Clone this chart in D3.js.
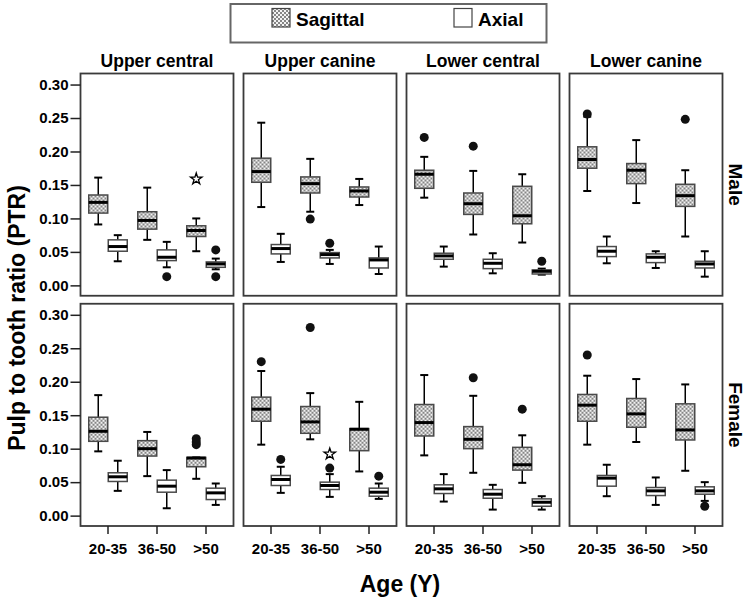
<!DOCTYPE html>
<html>
<head>
<meta charset="utf-8">
<script src="https://cdn.jsdelivr.net/npm/d3@7/dist/d3.min.js"></script>
<style>
  html, body { margin: 0; padding: 0; background: #fff; }
  svg { display: block; }
  text { font-family: "Liberation Sans", Arial, Helvetica, sans-serif; fill: #000; }
</style>
</head>
<body>
<svg id="chart" width="750" height="608"></svg>
<script>
// ---------------- data ----------------
const teeth = ["Upper central", "Upper canine", "Lower central", "Lower canine"];
const sexes = ["Male", "Female"];
const ages = ["20-35", "36-50", ">50"];
const views = ["Sagittal", "Axial"];
const yTickValues = [0.00, 0.05, 0.10, 0.15, 0.20, 0.25, 0.30];

// each box: [whisker low, Q1, median, Q3, whisker high], one per age group
const maleUpperCentralSag = [[0.091, 0.108, 0.124, 0.135, 0.161], [0.068, 0.084, 0.097, 0.110, 0.146], [0.051, 0.073, 0.082, 0.089, 0.100]];
const maleUpperCentralAx  = [[0.036, 0.051, 0.058, 0.068, 0.075], [0.027, 0.037, 0.042, 0.053, 0.065], [0.024, 0.027, 0.032, 0.035, 0.040]];
const maleUpperCanineSag  = [[0.117, 0.154, 0.170, 0.190, 0.243], [0.110, 0.138, 0.152, 0.162, 0.189], [0.120, 0.132, 0.141, 0.147, 0.159]];
const maleUpperCanineAx   = [[0.035, 0.047, 0.055, 0.061, 0.077], [0.032, 0.041, 0.046, 0.049, 0.053], [0.017, 0.026, 0.038, 0.041, 0.058]];
const maleLowerCentralSag = [[0.131, 0.145, 0.166, 0.172, 0.192], [0.076, 0.106, 0.122, 0.138, 0.171], [0.064, 0.092, 0.104, 0.148, 0.166]];
const maleLowerCentralAx  = [[0.028, 0.039, 0.044, 0.048, 0.058], [0.018, 0.025, 0.033, 0.039, 0.048], [0.016, 0.017, 0.021, 0.023, 0.025]];
const maleLowerCanineSag  = [[0.141, 0.175, 0.188, 0.207, 0.252], [0.123, 0.152, 0.172, 0.182, 0.217], [0.073, 0.118, 0.134, 0.151, 0.172]];
const maleLowerCanineAx   = [[0.033, 0.043, 0.051, 0.058, 0.073], [0.026, 0.034, 0.042, 0.047, 0.051], [0.013, 0.026, 0.032, 0.036, 0.051]];

const femaleUpperCentralSag = [[0.096, 0.111, 0.126, 0.147, 0.180], [0.059, 0.089, 0.100, 0.112, 0.125], [0.055, 0.073, 0.086, 0.087, 0.087]];
const femaleUpperCentralAx  = [[0.037, 0.051, 0.058, 0.064, 0.082], [0.011, 0.035, 0.044, 0.053, 0.068], [0.016, 0.024, 0.034, 0.041, 0.048]];
const femaleUpperCanineSag  = [[0.106, 0.141, 0.159, 0.177, 0.216], [0.114, 0.123, 0.140, 0.163, 0.183], [0.066, 0.097, 0.129, 0.130, 0.170]];
const femaleUpperCanineAx   = [[0.034, 0.045, 0.054, 0.060, 0.073], [0.028, 0.039, 0.045, 0.050, 0.062], [0.025, 0.029, 0.035, 0.041, 0.048]];
const femaleLowerCentralSag = [[0.090, 0.119, 0.139, 0.166, 0.210], [0.064, 0.100, 0.114, 0.133, 0.179], [0.049, 0.068, 0.076, 0.102, 0.120]];
const femaleLowerCentralAx  = [[0.021, 0.033, 0.040, 0.046, 0.062], [0.009, 0.026, 0.032, 0.039, 0.046], [0.009, 0.014, 0.020, 0.025, 0.029]];
const femaleLowerCanineSag  = [[0.106, 0.141, 0.165, 0.181, 0.209], [0.110, 0.132, 0.152, 0.175, 0.204], [0.067, 0.113, 0.128, 0.167, 0.196]];
const femaleLowerCanineAx   = [[0.029, 0.044, 0.056, 0.060, 0.076], [0.016, 0.030, 0.037, 0.042, 0.057], [0.022, 0.032, 0.037, 0.043, 0.050]];

// outliers: [sex, tooth, age, view, value, kind]
const outliers = [
  ["Male", "Upper central", ">50", "Sagittal", 0.159, "star"],
  ["Male", "Upper central", "36-50", "Axial", 0.013, "circle"],
  ["Male", "Upper central", ">50", "Axial", 0.053, "circle"],
  ["Male", "Upper central", ">50", "Axial", 0.013, "circle"],
  ["Male", "Upper canine", "36-50", "Sagittal", 0.099, "circle"],
  ["Male", "Upper canine", "36-50", "Axial", 0.063, "circle"],
  ["Male", "Lower central", "20-35", "Sagittal", 0.221, "circle"],
  ["Male", "Lower central", "36-50", "Sagittal", 0.208, "circle"],
  ["Male", "Lower central", ">50", "Axial", 0.036, "circle"],
  ["Male", "Lower canine", "20-35", "Sagittal", 0.256, "circle"],
  ["Male", "Lower canine", ">50", "Sagittal", 0.248, "circle"],
  ["Female", "Upper central", ">50", "Sagittal", 0.106, "circle"],
  ["Female", "Upper central", ">50", "Sagittal", 0.110, "circle"],
  ["Female", "Upper central", ">50", "Sagittal", 0.115, "circle"],
  ["Female", "Upper canine", "20-35", "Sagittal", 0.230, "circle"],
  ["Female", "Upper canine", "20-35", "Axial", 0.084, "circle"],
  ["Female", "Upper canine", "36-50", "Sagittal", 0.281, "circle"],
  ["Female", "Upper canine", "36-50", "Axial", 0.092, "star"],
  ["Female", "Upper canine", "36-50", "Axial", 0.071, "circle"],
  ["Female", "Upper canine", ">50", "Axial", 0.059, "circle"],
  ["Female", "Lower central", "36-50", "Sagittal", 0.206, "circle"],
  ["Female", "Lower central", ">50", "Sagittal", 0.159, "circle"],
  ["Female", "Lower canine", "20-35", "Sagittal", 0.240, "circle"],
  ["Female", "Lower canine", ">50", "Axial", 0.014, "circle"]
];

const boxSets = {
  "Male|Upper central|Sagittal": maleUpperCentralSag, "Male|Upper central|Axial": maleUpperCentralAx,
  "Male|Upper canine|Sagittal": maleUpperCanineSag, "Male|Upper canine|Axial": maleUpperCanineAx,
  "Male|Lower central|Sagittal": maleLowerCentralSag, "Male|Lower central|Axial": maleLowerCentralAx,
  "Male|Lower canine|Sagittal": maleLowerCanineSag, "Male|Lower canine|Axial": maleLowerCanineAx,
  "Female|Upper central|Sagittal": femaleUpperCentralSag, "Female|Upper central|Axial": femaleUpperCentralAx,
  "Female|Upper canine|Sagittal": femaleUpperCanineSag, "Female|Upper canine|Axial": femaleUpperCanineAx,
  "Female|Lower central|Sagittal": femaleLowerCentralSag, "Female|Lower central|Axial": femaleLowerCentralAx,
  "Female|Lower canine|Sagittal": femaleLowerCanineSag, "Female|Lower canine|Axial": femaleLowerCanineAx
};

// ---------------- layout ----------------
const svg = d3.select("#chart");
const defs = svg.append("defs");
const pat = defs.append("pattern").attr("id", "dots")
  .attr("patternUnits", "userSpaceOnUse").attr("width", 4).attr("height", 4);
pat.append("rect").attr("width", 4).attr("height", 4).attr("fill", "#f2f2f2");
pat.append("rect").attr("x", 0).attr("y", 0).attr("width", 2).attr("height", 2).attr("fill", "#858585");
pat.append("rect").attr("x", 2).attr("y", 2).attr("width", 2).attr("height", 2).attr("fill", "#858585");

const colX = d3.scaleBand().domain(teeth).range([80.5, 722.5]).paddingInner(10 / 163).paddingOuter(0);
const rowY = d3.scaleBand().domain(sexes).range([73.5, 526]).paddingInner(8 / 230).paddingOuter(0);
const panelW = colX.bandwidth();
const panelH = rowY.bandwidth();
const y = d3.scaleLinear().domain([-0.0155, 0.3165]).range([panelH, 0]);
const ageX = d3.scaleBand().domain(ages).range([3, panelW - 3]);
const viewX = d3.scaleBand().domain(views).range([5, ageX.bandwidth() - 5]);
const boxW = viewX.bandwidth() - 0.5;
const capW = 8;

// legend
const leg = svg.append("g");
leg.append("rect").attr("x", 230.5).attr("y", 4).attr("width", 316).attr("height", 38.5)
  .attr("fill", "#fff").attr("stroke", "#666").attr("stroke-width", 2);
const legItems = [{ v: "Sagittal", x: 272 }, { v: "Axial", x: 454 }];
legItems.forEach(it => {
  leg.append("rect").attr("x", it.x).attr("y", 8.5).attr("width", 18).attr("height", 18.5)
    .attr("fill", it.v === "Sagittal" ? "url(#dots)" : "#fff").attr("stroke", "#444").attr("stroke-width", 1.2);
  leg.append("text").attr("x", it.x + 24).attr("y", 26).attr("font-size", 19).attr("font-weight", "bold").text(it.v);
});

// panels
sexes.forEach(sex => {
  teeth.forEach(tooth => {
    const g = svg.append("g").attr("transform", `translate(${colX(tooth)},${rowY(sex)})`);
    g.append("rect").attr("width", panelW).attr("height", panelH)
      .attr("fill", "#fff").attr("stroke", "#3a3a3a").attr("stroke-width", 1.8);

    views.forEach(view => {
      const stats = boxSets[`${sex}|${tooth}|${view}`];
      stats.forEach((s, i) => {
        const cx = ageX(ages[i]) + viewX(view) + viewX.bandwidth() / 2;
        const bg = g.append("g");
        // whiskers
        bg.append("line").attr("x1", cx).attr("x2", cx).attr("y1", y(s[0])).attr("y2", y(s[1]))
          .attr("stroke", "#000").attr("stroke-width", 1.5);
        bg.append("line").attr("x1", cx).attr("x2", cx).attr("y1", y(s[3])).attr("y2", y(s[4]))
          .attr("stroke", "#000").attr("stroke-width", 1.5);
        [s[0], s[4]].forEach(v => {
          bg.append("line").attr("x1", cx - capW / 2).attr("x2", cx + capW / 2).attr("y1", y(v)).attr("y2", y(v))
            .attr("stroke", "#000").attr("stroke-width", 2);
        });
        // box
        bg.append("rect").attr("x", cx - boxW / 2).attr("width", boxW)
          .attr("y", y(s[3])).attr("height", Math.max(1, y(s[1]) - y(s[3])))
          .attr("fill", view === "Sagittal" ? "url(#dots)" : "#fff")
          .attr("stroke", "#4a4a4a").attr("stroke-width", 1.5);
        // median
        bg.append("line").attr("x1", cx - boxW / 2).attr("x2", cx + boxW / 2).attr("y1", y(s[2])).attr("y2", y(s[2]))
          .attr("stroke", "#000").attr("stroke-width", 3);
      });
    });

    outliers.filter(o => o[0] === sex && o[1] === tooth).forEach(o => {
      const cx = ageX(o[2]) + viewX(o[3]) + viewX.bandwidth() / 2;
      if (o[5] === "circle") {
        g.append("circle").attr("cx", cx).attr("cy", y(o[4])).attr("r", 4.5).attr("fill", "#111");
      } else {
        g.append("path").attr("d", d3.symbol(d3.symbolStar, 40)())
          .attr("transform", `translate(${cx},${y(o[4])})`)
          .attr("fill", "#fff").attr("stroke", "#000").attr("stroke-width", 1.3);
      }
    });

    // column titles on top row
    if (sex === sexes[0]) {
      svg.append("text").attr("x", colX(tooth) + panelW / 2).attr("y", 67)
        .attr("text-anchor", "middle").attr("font-size", 17.5).attr("font-weight", "bold").text(tooth);
    }
    // row labels on right column
    if (tooth === teeth[teeth.length - 1]) {
      svg.append("text").attr("transform", `translate(${colX(tooth) + panelW + 6},${rowY(sex) + panelH / 2}) rotate(90)`)
        .attr("text-anchor", "middle").attr("font-size", 19).attr("font-weight", "bold").text(sex);
    }
    // y axis on left column
    if (tooth === teeth[0]) {
      const ax = g.append("g").call(d3.axisLeft(y).tickValues(yTickValues).tickFormat(d3.format(".2f")).tickSize(10).tickPadding(2));
      ax.select(".domain").remove();
      ax.selectAll("line").attr("stroke", "#222").attr("stroke-width", 1.5);
      ax.selectAll("text").attr("font-size", 15).attr("font-weight", "bold").attr("fill", "#000")
        .style("font-family", '"Liberation Sans", Arial, sans-serif');
    }
    // x axis on bottom row
    if (sex === sexes[sexes.length - 1]) {
      const xa = d3.scaleBand().domain(ages).range([3, panelW - 3]);
      const ax = g.append("g").attr("transform", `translate(0,${panelH})`)
        .call(d3.axisBottom(xa).tickSize(8).tickPadding(9));
      ax.select(".domain").remove();
      ax.selectAll("line").attr("stroke", "#222").attr("stroke-width", 1.5);
      ax.selectAll("text").attr("font-size", 15).attr("font-weight", "bold").attr("fill", "#000")
        .style("font-family", '"Liberation Sans", Arial, sans-serif');
    }
  });
});

// axis titles
svg.append("text").attr("transform", "translate(25,318) rotate(-90)").attr("text-anchor", "middle")
  .attr("font-size", 23).attr("font-weight", "bold").text("Pulp to tooth ratio (PTR)");
svg.append("text").attr("x", 400).attr("y", 592).attr("text-anchor", "middle")
  .attr("font-size", 23).attr("font-weight", "bold").text("Age (Y)");
</script>
</body>
</html>
